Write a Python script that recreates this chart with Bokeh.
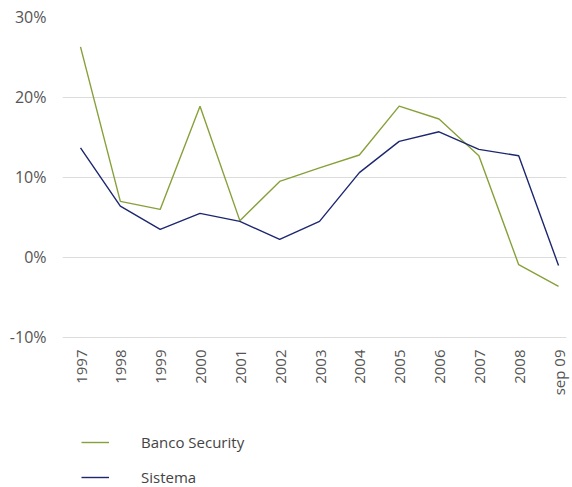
from bokeh.plotting import figure
from bokeh.models import Range1d, FixedTicker, Legend, LegendItem
from bokeh.layouts import column
from bokeh.embed import file_html
from bokeh.resources import INLINE
import math

years = ["1997", "1998", "1999", "2000", "2001", "2002", "2003", "2004",
         "2005", "2006", "2007", "2008", "sep 09"]
banco_security = [26.3, 7.0, 6.0, 18.9, 4.6, 9.5, 11.2, 12.8, 18.9, 17.3, 12.7, -0.9, -3.6]
sistema = [13.7, 6.4, 3.5, 5.5, 4.5, 2.25, 4.5, 10.6, 14.5, 15.7, 13.5, 12.7, -1.0]
y_ticks = [-10, 0, 10, 20, 30]
grid_ticks = [-10, 0, 10, 20]

GREEN = "#87a03a"
NAVY = "#1c2770"
FONT = "Open Sans"

xs = list(range(len(years)))

p = figure(width=572, height=410, output_backend="svg", toolbar_location=None,
           x_range=Range1d(-0.452, 12.2), y_range=Range1d(-10.5, 30.6),
           min_border_left=62, min_border_right=6, min_border_top=12,
           min_border_bottom=69)
p.outline_line_color = None
p.background_fill_color = "white"
p.border_fill_color = "white"

p.line(xs, banco_security, line_color=GREEN, line_width=1.4)
p.line(xs, sistema, line_color=NAVY, line_width=1.4)

# y axis
p.yaxis.ticker = FixedTicker(ticks=y_ticks)
p.yaxis.major_label_overrides = {t: f"{t}%" for t in y_ticks}
p.yaxis.axis_line_color = None
p.yaxis.major_tick_line_color = None
p.yaxis.minor_tick_line_color = None
p.yaxis.major_tick_out = 0
p.yaxis.major_label_standoff = 16
p.yaxis.major_label_text_font = FONT
p.yaxis.major_label_text_font_size = "16px"
p.yaxis.major_label_text_color = "#555555"

p.ygrid.ticker = FixedTicker(ticks=grid_ticks)
p.ygrid.grid_line_color = "#dcdcdc"
p.ygrid.grid_line_width = 1.2
p.xgrid.grid_line_color = None

# x axis
p.xaxis.ticker = FixedTicker(ticks=xs)
p.xaxis.major_label_overrides = {i: y for i, y in enumerate(years)}
p.xaxis.major_label_orientation = math.pi / 2
p.xaxis.axis_line_color = None
p.xaxis.major_tick_line_color = None
p.xaxis.minor_tick_line_color = None
p.xaxis.major_tick_out = 0
p.xaxis.major_label_standoff = 8
p.xaxis.major_label_text_font = FONT
p.xaxis.major_label_text_font_size = "15px"
p.xaxis.major_label_text_color = "#555555"

# legend panel (separate figure below the chart; its lines lie outside its view)
lf = figure(width=572, height=77, output_backend="svg", toolbar_location=None,
            x_range=Range1d(100, 101), y_range=Range1d(100, 101),
            x_axis_location=None, y_axis_location=None, min_border=0)
lf.grid.visible = False
lf.outline_line_color = None
lr1 = lf.line(xs, banco_security, line_color=GREEN, line_width=1.4)
lr2 = lf.line(xs, sistema, line_color=NAVY, line_width=1.4)

legend = Legend(items=[LegendItem(label="Banco Security", renderers=[lr1]),
                       LegendItem(label="Sistema", renderers=[lr2])],
                location=(19, 0), orientation="vertical",
                glyph_width=28, glyph_height=14, label_height=14,
                label_standoff=32, spacing=15, padding=0, margin=0,
                border_line_color=None, background_fill_alpha=0,
                label_text_font=FONT, label_text_font_size="15px",
                label_text_color="#444444")
lf.add_layout(legend, "center")

layout = column(p, lf, spacing=0)
open("out.html", "w").write(file_html(layout, INLINE))
